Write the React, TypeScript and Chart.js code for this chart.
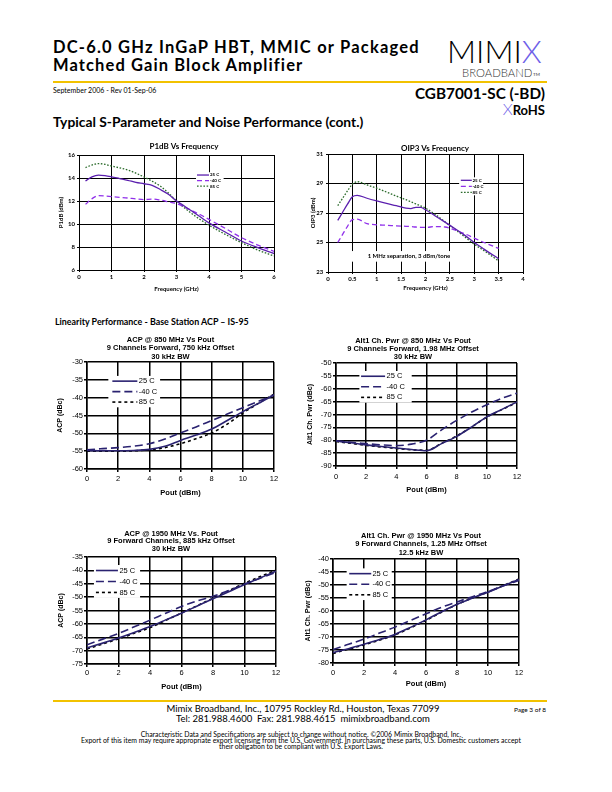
import React, { useEffect, useRef } from "react";
import { Chart, registerables } from "chart.js";
Chart.register(...registerables);

const LATO = "Lato, 'Open Sans', sans-serif";
const ARIAL = "'Liberation Sans', Arial, sans-serif";

const SERIES_LABELS = ["25 C", "-40 C", "85 C"];

// ---------- P1dB vs Frequency ----------
const P1DB_FREQ = [0.2, 0.4, 0.6, 0.8, 1.0, 1.25, 1.5, 1.75, 2.0, 2.25, 2.5, 2.75, 3.0, 3.25, 3.5, 3.75, 4.0, 4.5, 5.0, 5.5, 6.0];
const P1DB_25C = [13.74, 14.1, 14.25, 14.2, 14.1, 13.95, 13.8, 13.62, 13.5, 13.36, 13.0, 12.58, 12.0, 11.55, 11.07, 10.58, 10.1, 9.3, 8.52, 7.94, 7.43];
const P1DB_M40C = [11.71, 12.2, 12.46, 12.43, 12.38, 12.32, 12.26, 12.18, 12.12, 12.17, 12.08, 11.93, 11.77, 11.48, 11.13, 10.78, 10.4, 9.62, 8.81, 8.17, 7.62];
const P1DB_85C = [14.9, 15.13, 15.25, 15.19, 15.04, 14.88, 14.7, 14.42, 14.09, 13.72, 13.3, 12.7, 12.0, 11.4, 10.84, 10.35, 9.9, 9.1, 8.38, 7.74, 7.22];
const P1DB_X_TICKS = [0, 1, 2, 3, 4, 5, 6];
const P1DB_Y_TICKS = [6, 8, 10, 12, 14, 16];

// ---------- OIP3 vs Frequency ----------
const OIP3_FREQ = [0.2, 0.3, 0.4, 0.5, 0.6, 0.8, 1.0, 1.2, 1.4, 1.6, 1.7, 1.8, 1.9, 2.0, 2.2, 2.4, 2.6, 2.8, 3.0, 3.2, 3.5];
const OIP3_25C = [26.5, 27.05, 27.6, 28.1, 28.2, 28.0, 27.82, 27.65, 27.5, 27.33, 27.3, 27.38, 27.38, 27.22, 26.8, 26.38, 25.95, 25.5, 25.0, 24.55, 23.9];
const OIP3_M40C = [25.0, 25.55, 26.1, 26.55, 26.58, 26.28, 26.2, 26.17, 26.13, 26.1, 26.08, 26.05, 26.03, 26.02, 26.08, 26.05, 25.85, 25.6, 25.3, 25.0, 24.6];
const OIP3_85C = [27.5, 28.0, 28.5, 28.95, 29.12, 28.9, 28.68, 28.42, 28.15, 27.9, 27.76, 27.62, 27.48, 27.33, 26.9, 26.4, 25.9, 25.4, 24.88, 24.45, 23.75];
const OIP3_X_TICKS = [0, 0.5, 1, 1.5, 2, 2.5, 3, 3.5, 4];
const OIP3_Y_TICKS = [23, 25, 27, 29, 31];
const OIP3_NOTE = "1 MHz separation, 3 dBm/tone";

// ---------- Linearity (Pout sweeps) ----------
const POUT = [0, 1, 2, 3, 4, 5, 6, 7, 8, 9, 10, 11, 12];
const POUT_TICKS = [0, 2, 4, 6, 8, 10, 12];

const ACP850_25C = [-54.8, -54.9, -54.9, -54.8, -54.5, -53.6, -52.0, -50.5, -48.8, -46.4, -43.9, -41.6, -39.2];
const ACP850_M40C = [-54.6, -54.3, -54.0, -53.6, -52.9, -51.6, -49.9, -48.2, -46.4, -44.6, -42.8, -41.0, -39.3];
const ACP850_85C = [-55.0, -55.0, -55.0, -54.9, -54.6, -54.0, -52.9, -51.5, -49.9, -47.4, -44.3, -41.6, -39.0];
const ACP850_Y_TICKS = [-60, -55, -50, -45, -40, -35, -30];

const ALT850_25C = [-80.3, -81.0, -81.8, -82.4, -83.0, -83.6, -84.1, -81.3, -78.5, -74.8, -70.9, -68.0, -65.1];
const ALT850_M40C = [-80.2, -80.8, -81.3, -81.8, -82.1, -81.5, -80.0, -76.0, -72.3, -69.0, -66.2, -63.7, -61.7];
const ALT850_85C = [-80.5, -81.2, -82.0, -82.6, -83.2, -83.7, -83.9, -81.2, -78.3, -74.8, -71.0, -68.1, -65.3];
const ALT850_Y_TICKS = [-90, -85, -80, -75, -70, -65, -60, -55, -50];

const ACP1950_25C = [-69.0, -67.2, -65.3, -63.2, -61.0, -58.5, -56.0, -53.3, -50.6, -48.0, -45.3, -42.8, -40.3];
const ACP1950_M40C = [-67.8, -65.7, -63.6, -61.1, -58.6, -56.0, -53.5, -51.4, -49.7, -47.5, -45.2, -42.9, -40.8];
const ACP1950_85C = [-69.4, -67.5, -65.6, -63.5, -61.4, -58.7, -55.9, -53.2, -50.4, -47.6, -44.8, -42.3, -39.9];
const ACP1950_Y_TICKS = [-75, -70, -65, -60, -55, -50, -45, -40, -35];

const ALT1950_25C = [-76.0, -74.5, -72.8, -71.0, -69.0, -66.3, -63.4, -60.3, -57.4, -55.0, -52.8, -50.3, -47.9];
const ALT1950_M40C = [-74.8, -72.8, -70.8, -68.5, -66.2, -63.6, -61.1, -58.6, -56.5, -54.5, -52.5, -50.3, -48.2];
const ALT1950_85C = [-76.3, -74.7, -73.0, -71.2, -69.2, -66.5, -63.6, -60.5, -57.5, -55.0, -52.7, -50.2, -47.7];
const ALT1950_Y_TICKS = [-80, -75, -70, -65, -60, -55, -50, -45, -40];

// ---------- styles ----------
const PURPLE = "#5b1fae";
const VIOLET = "#9030ea";
const GREEN = "#2a6a2a";
const NAVY = "#2a2270";

const FREQ_STYLES = [
  { color: PURPLE, dash: [], width: 1.3 },
  { color: VIOLET, dash: [5, 3], width: 1.3 },
  { color: GREEN, dash: [1.6, 1.6], width: 1.3 },
];
const POUT_STYLES = [
  { color: NAVY, dash: [], width: 1.6 },
  { color: NAVY, dash: [8, 4], width: 1.6 },
  { color: "#000", dash: [3, 3], width: 1.6 },
];

// ---------- plugins ----------
const insetLegend = {
  id: "insetLegend",
  afterDatasetsDraw(chart: any, _a: any, o: any) {
    if (!o || !o.box) return;
    const { ctx } = chart;
    const xs = chart.scales.x, ys = chart.scales.y;
    const left = xs.getPixelForValue(o.box[0]);
    const right = xs.getPixelForValue(o.box[1]);
    const top = ys.getPixelForValue(o.box[2]);
    const bottom = ys.getPixelForValue(o.box[3]);
    ctx.save();
    ctx.fillStyle = "#fff";
    ctx.fillRect(left, top, right - left, bottom - top);
    const ds = chart.data.datasets;
    const rowH = (bottom - top) / ds.length;
    ctx.font = o.font;
    ctx.textBaseline = "middle";
    ds.forEach((d: any, i: number) => {
      const yy = top + rowH * (i + 0.5);
      ctx.beginPath();
      ctx.strokeStyle = d.borderColor;
      ctx.lineWidth = d.borderWidth;
      ctx.setLineDash(d.borderDash || []);
      ctx.moveTo(left + o.inset, yy);
      ctx.lineTo(left + o.inset + o.lineLen, yy);
      ctx.stroke();
      ctx.setLineDash([]);
      ctx.fillStyle = "#000";
      ctx.textAlign = "left";
      ctx.fillText(d.label, left + o.inset + o.lineLen + o.gap, yy);
    });
    ctx.restore();
  },
};

const noteText = {
  id: "noteText",
  beforeDatasetsDraw(chart: any, _a: any, o: any) {
    if (!o || !o.text) return;
    const { ctx } = chart;
    const xs = chart.scales.x, ys = chart.scales.y;
    ctx.save();
    const bx0 = xs.getPixelForValue(o.box[0]);
    const bx1 = xs.getPixelForValue(o.box[1]);
    const by0 = ys.getPixelForValue(o.box[2]);
    const by1 = ys.getPixelForValue(o.box[3]);
    ctx.fillStyle = "#fff";
    ctx.fillRect(bx0, by0, bx1 - bx0, by1 - by0);
    ctx.fillStyle = "#000";
    ctx.font = o.font;
    ctx.textAlign = "center";
    ctx.textBaseline = "middle";
    ctx.fillText(o.text, xs.getPixelForValue(o.x), ys.getPixelForValue(o.y));
    ctx.restore();
  },
};

// ---------- chart specs ----------
type Spec = any;

const freqFont = (size: number) => ({ family: LATO, size, weight: "bold" as const });
const arialFont = (size: number, bold = false) => ({ family: ARIAL, size, weight: bold ? ("bold" as const) : ("normal" as const) });

const SPECS: Spec[] = [
  {
    geo: { L: 79, T: 155, R: 274, B: 270, yw: 22, xh: 23, top: 13, rw: 37, pr: 4 },
    title: ["P1dB Vs Frequency"],
    titleFont: { ...freqFont(8), lineHeight: 1.2 },
    x: P1DB_FREQ, ys: [P1DB_25C, P1DB_M40C, P1DB_85C], styles: FREQ_STYLES,
    xMin: 0, xMax: 6, xTicks: P1DB_X_TICKS, yMin: 6, yMax: 16, yTicks: P1DB_Y_TICKS,
    xTitle: "Frequency (GHz)", yTitle: "P1dB (dBm)", axisTitleFont: freqFont(6), tickFont: freqFont(6),
    grid: 1, xTick: [2, 1.5], yTick: [2, 2],
    legend: { box: [3.6, 4.45, 14.5, 13.05], inset: 1, lineLen: 12, gap: 1, font: `bold 4.5px ${LATO}` },
  },
  {
    geo: { L: 328, T: 154, R: 523, B: 272, yw: 19, xh: 20, top: 10, rw: 38, pr: 4 },
    title: ["OIP3 Vs Frequency"],
    titleFont: { ...freqFont(8), lineHeight: 1.2 },
    x: OIP3_FREQ, ys: [OIP3_25C, OIP3_M40C, OIP3_85C], styles: FREQ_STYLES,
    xMin: 0, xMax: 4, xTicks: OIP3_X_TICKS, yMin: 23, yMax: 31, yTicks: OIP3_Y_TICKS,
    xTitle: "Frequency (GHz)", yTitle: "OIP3 (dBm)", axisTitleFont: freqFont(6), tickFont: freqFont(6),
    grid: 1, xTick: [2, 1.1], yTick: [2, 2.7],
    legend: { box: [2.69, 3.18, 29.42, 28.2], inset: 1.7, lineLen: 11, gap: 0.6, font: `bold 4.5px ${LATO}` },
    note: { text: OIP3_NOTE, x: 1.66, y: 24.08, box: [0.42, 2.85, 24.42, 23.7], font: `bold 6px ${LATO}` },
  },
  {
    geo: { L: 87, T: 362, R: 274, B: 469, yw: 31, xh: 28, top: 26, rw: 11, pr: 6 },
    title: ["ACP @ 850 MHz Vs Pout", "9 Channels Forward, 750 kHz Offset", "30 kHz BW"],
    titleFont: { ...arialFont(7.5, true), lineHeight: 1.1 },
    x: POUT, ys: [ACP850_25C, ACP850_M40C, ACP850_85C], styles: POUT_STYLES,
    xMin: 0, xMax: 12, xTicks: POUT_TICKS, yMin: -60, yMax: -30, yTicks: ACP850_Y_TICKS,
    xTitle: "Pout (dBm)", yTitle: "ACP (dBc)", axisTitleFont: arialFont(7.5, true), yTitleFont: arialFont(7, true), tickFont: arialFont(7.5),
    grid: 1.5, xTick: [3, 2.5], yTick: [3, 1],
    legend: { box: [1.37, 4.69, -33.9, -42.7], inset: 4, lineLen: 25, gap: 1.5, font: `7.5px ${ARIAL}` },
  },
  {
    geo: { L: 336, T: 363, R: 517, B: 466, yw: 30, xh: 28, top: 26, rw: 3, pr: 8 },
    title: ["Alt1 Ch. Pwr @ 850 MHz Vs Pout", "9 Channels Forward, 1.98 MHz Offset", "30 kHz BW"],
    titleFont: { ...arialFont(7.5, true), lineHeight: 1.05 },
    x: POUT, ys: [ALT850_25C, ALT850_M40C, ALT850_85C], styles: POUT_STYLES,
    xMin: 0, xMax: 12, xTicks: POUT_TICKS, yMin: -90, yMax: -50, yTicks: ALT850_Y_TICKS,
    xTitle: "Pout (dBm)", yTitle: "Alt1 Ch. Pwr (dBc)", axisTitleFont: arialFont(7.5, true), yTitleFont: arialFont(7, true), tickFont: arialFont(7.5),
    grid: 1.5, xTick: [3, 3], yTick: [3, 1.3],
    legend: { box: [1.55, 5.02, -53.1, -65.4], inset: 1.7, lineLen: 24, gap: 1.5, font: `7.5px ${ARIAL}` },
  },
  {
    geo: { L: 87, T: 557, R: 276, B: 664, yw: 30, xh: 27, top: 27, rw: 9, pr: 6 },
    title: ["ACP @ 1950 MHz Vs. Pout", "9 Forward Channels, 885 kHz Offset", "30 kHz BW"],
    titleFont: { ...arialFont(7.5, true), lineHeight: 1.0 },
    x: POUT, ys: [ACP1950_25C, ACP1950_M40C, ACP1950_85C], styles: POUT_STYLES,
    xMin: 0, xMax: 12, xTicks: POUT_TICKS, yMin: -75, yMax: -35, yTicks: ACP1950_Y_TICKS,
    xTitle: "Pout (dBm)", yTitle: "ACP (dBc)", axisTitleFont: arialFont(7.5, true), yTitleFont: arialFont(7, true), tickFont: arialFont(7.5),
    grid: 1.5, xTick: [3, 1.2], yTick: [3, 1],
    legend: { box: [0.44, 3.37, -38, -50.3], inset: 2, lineLen: 22, gap: 1.5, font: `7.5px ${ARIAL}` },
  },
  {
    geo: { L: 333, T: 559, R: 519, B: 663, yw: 29, xh: 25, top: 27, rw: 19, pr: 4 },
    title: ["Alt1 Ch. Pwr @ 1950 MHz Vs Pout", "9 Forward Channels, 1.25 MHz Offset", "12.5 kHz BW"],
    titleFont: { ...arialFont(7.5, true), lineHeight: 1.1 },
    x: POUT, ys: [ALT1950_25C, ALT1950_M40C, ALT1950_85C], styles: POUT_STYLES,
    xMin: 0, xMax: 12, xTicks: POUT_TICKS, yMin: -80, yMax: -40, yTicks: ALT1950_Y_TICKS,
    xTitle: "Pout (dBm)", yTitle: "Alt1 Ch. Pwr (dBc)", axisTitleFont: arialFont(7.5, true), yTitleFont: arialFont(7, true), tickFont: arialFont(7.5),
    grid: 1.5, xTick: [3, 2.2], yTick: [3, 1],
    legend: { box: [0.88, 3.79, -43.6, -55.8], inset: 2.6, lineLen: 22, gap: 1.2, font: `7.5px ${ARIAL}` },
  },
];

function canvasBox(g: any) {
  const left = g.L - g.yw;
  const top = g.T - g.top;
  return { left, top, width: g.R + g.rw + g.pr - left, height: g.B + g.xh - top };
}

function buildConfig(s: Spec): any {
  const g = s.geo;
  const titleH = s.title.length * s.titleFont.size * s.titleFont.lineHeight;
  const datasets = s.ys.map((vals: number[], i: number) => ({
    label: SERIES_LABELS[i],
    data: s.x.map((xv: number, j: number) => ({ x: xv, y: vals[j] })),
    borderColor: s.styles[i].color,
    borderWidth: s.styles[i].width,
    borderDash: s.styles[i].dash,
    pointRadius: 0,
    fill: false,
    cubicInterpolationMode: "monotone",
  }));
  const gridOpts = (tl: number) => ({ color: "#000", lineWidth: s.grid, drawTicks: true, tickLength: tl, tickColor: "#000", tickWidth: s.grid });
  return {
    type: "line",
    data: { datasets },
    options: {
      responsive: false,
      animation: false,
      devicePixelRatio: 1,
      events: [],
      layout: { padding: { left: 0, top: 0, bottom: 0, right: g.pr } },
      plugins: {
        legend: { display: false },
        tooltip: { enabled: false },
        title: {
          display: true,
          text: s.title,
          color: "#000",
          font: s.titleFont,
          padding: { top: 0, bottom: Math.max(0, g.top - titleH) },
        },
        insetLegend: s.legend || false,
        noteText: s.note || false,
      },
      scales: {
        x: {
          type: "linear",
          min: s.xMin,
          max: s.xMax,
          afterBuildTicks: (sc: any) => { sc.ticks = s.xTicks.map((v: number) => ({ value: v })); },
          afterFit: (sc: any) => { sc.height = g.xh; },
          grid: gridOpts(s.xTick[0]),
          border: { color: "#000", width: s.grid },
          ticks: { color: "#000", font: s.tickFont, padding: s.xTick[1], maxRotation: 0, autoSkip: false, callback: (v: any) => String(v) },
          title: { display: true, text: s.xTitle, color: "#000", font: s.axisTitleFont, padding: 0 },
        },
        y: {
          type: "linear",
          min: s.yMin,
          max: s.yMax,
          afterBuildTicks: (sc: any) => { sc.ticks = s.yTicks.map((v: number) => ({ value: v })); },
          afterFit: (sc: any) => { sc.width = g.yw; },
          grid: gridOpts(s.yTick[0]),
          border: { color: "#000", width: s.grid },
          ticks: { color: "#000", font: s.tickFont, padding: s.yTick[1], autoSkip: false, callback: (v: any) => String(v) },
          title: { display: true, text: s.yTitle, color: "#000", font: s.yTitleFont || s.axisTitleFont, padding: 0 },
        },
        yr: {
          type: "linear",
          position: "right",
          display: true,
          grid: { display: false, drawTicks: false },
          border: { display: false },
          ticks: { display: false },
          afterFit: (sc: any) => { sc.width = g.rw; },
        },
      },
    },
    plugins: [insetLegend, noteText],
  };
}

function ChartCanvas({ spec }: { spec: Spec }) {
  const ref = useRef<HTMLCanvasElement>(null);
  const b = canvasBox(spec.geo);
  useEffect(() => {
    const chart = new Chart(ref.current as HTMLCanvasElement, buildConfig(spec));
    return () => chart.destroy();
  }, []);
  return (
    <canvas
      ref={ref}
      width={b.width}
      height={b.height}
      style={{ position: "absolute", left: b.left, top: b.top, width: b.width, height: b.height }}
    />
  );
}

function Txt(props: any) {
  const { x, base, size, weight = 400, align = "left", color = "#000", family = LATO, children, style } = props;
  const st: any = {
    position: "absolute",
    top: base - 0.887 * size,
    fontSize: size,
    fontWeight: weight,
    lineHeight: 1,
    whiteSpace: "nowrap",
    color,
    fontFamily: family,
    ...style,
  };
  if (align === "left") st.left = x;
  else if (align === "right") st.right = 612 - x;
  else {
    st.left = x - 300;
    st.width = 600;
    st.textAlign = "center";
  }
  return <div style={st}>{children}</div>;
}

const RULE = "#f2c200";
const LOGO_X = "#6f5fe8";

export default function App() {
  return (
    <div style={{ position: "absolute", left: 0, top: 0, width: 612, height: 792, background: "#fff", overflow: "hidden", fontFamily: LATO }}>
      <Txt x={53} base={54} size={16.5} weight={700} style={{ letterSpacing: 1.2 }}>DC-6.0 GHz InGaP HBT, MMIC or Packaged</Txt>
      <Txt x={53} base={71.7} size={16.5} weight={700} style={{ letterSpacing: 1.1 }}>Matched Gain Block Amplifier</Txt>

      <Txt x={447} base={63.3} size={32} weight={300}>
        MIMI<span style={{ color: LOGO_X }}>X</span>
      </Txt>
      <Txt x={462} base={76.7} size={11.3} weight={300} color="#333">BROADBAND</Txt>
      <Txt x={533} base={76.5} size={4.5} weight={400} color="#333">TM</Txt>

      <div style={{ position: "absolute", left: 53, top: 80.7, width: 494, height: 2, background: RULE }} />

      <Txt x={53} base={93.5} size={7}>September 2006 - Rev 01-Sep-06</Txt>
      <Txt x={545} base={100} size={15.3} weight={700} align="right">CGB7001-SC (-BD)</Txt>
      <Txt x={545} base={112.7} size={13} weight={700} align="right">
        <span style={{ color: LOGO_X, fontWeight: 300, fontSize: 16 }}>X</span>RoHS
      </Txt>

      <Txt x={53} base={127.7} size={13.8} weight={700}>Typical S-Parameter and Noise Performance (cont.)</Txt>
      <Txt x={55} base={326} size={8.9} weight={700}>Linearity Performance - Base Station ACP – IS-95</Txt>

      {SPECS.map((s, i) => (
        <ChartCanvas key={i} spec={s} />
      ))}

      <div style={{ position: "absolute", left: 53, top: 700, width: 494, height: 2, background: RULE }} />
      <Txt x={303} base={712.5} size={9.5} align="center">Mimix Broadband, Inc., 10795 Rockley Rd., Houston, Texas 77099</Txt>
      <Txt x={303} base={722.5} size={9.5} align="center">Tel: 281.988.4600&nbsp;&nbsp;Fax: 281.988.4615&nbsp;&nbsp;mimixbroadband.com</Txt>
      <Txt x={546} base={712.5} size={6.5} align="right">Page 3 of 8</Txt>
      <Txt x={301} base={737.5} size={6.9} align="center">Characteristic Data and Specifications are subject to change without notice. ©2006 Mimix Broadband, Inc.</Txt>
      <Txt x={301} base={743.5} size={6.9} align="center">Export of this item may require appropriate export licensing from the U.S. Government. In purchasing these parts, U.S. Domestic customers accept</Txt>
      <Txt x={301} base={749.5} size={6.9} align="center">their obligation to be compliant with U.S. Export Laws.</Txt>
    </div>
  );
}
